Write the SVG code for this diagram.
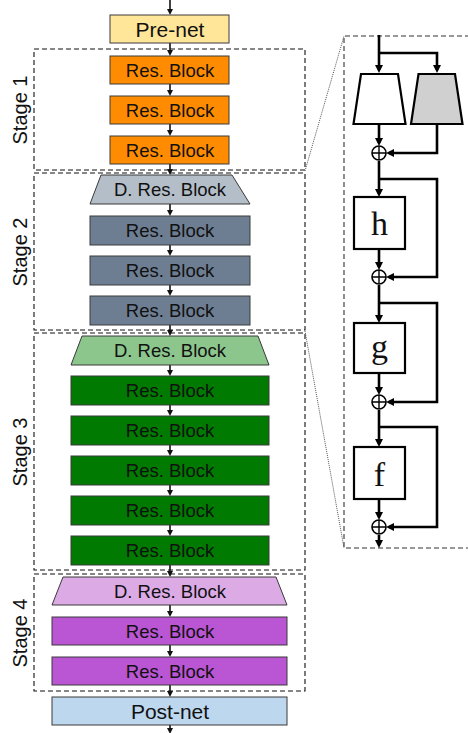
<svg xmlns="http://www.w3.org/2000/svg" width="468" height="733" viewBox="0 0 468 733">
<style>
.blk{stroke:#3a3a3a;stroke-width:1}
.t{font-family:"Liberation Sans",Arial,sans-serif;font-size:18.5px;fill:#111;text-anchor:middle}
.tb{font-family:"Liberation Sans",Arial,sans-serif;font-size:21px;fill:#111;text-anchor:middle}
.stage{fill:none;stroke:#111;stroke-width:1.1;stroke-dasharray:5,3}
.lbl{font-family:"Liberation Sans",Arial,sans-serif;font-size:20px;fill:#111;text-anchor:middle}
.c{stroke:#111;stroke-width:1.6;fill:none}
.r{stroke:#000;stroke-width:2.6;fill:none}
.rb{stroke:#000;stroke-width:2.2;fill:#fff}
.serif{font-family:"Liberation Serif","Times New Roman",serif;font-size:34px;fill:#111;text-anchor:middle}
.dot{stroke:#555;stroke-width:1;stroke-dasharray:1,1;fill:none}
.zoom{stroke:#333;stroke-width:1.1;stroke-dasharray:5,3;fill:none}
</style>
<defs>
<marker id="a" viewBox="0 0 6 6" refX="4" refY="3" markerWidth="6" markerHeight="6" markerUnits="userSpaceOnUse" orient="auto">
<path d="M0,0 L6,3 L0,6 z" fill="#111"/>
</marker>
<marker id="b" viewBox="0 0 8 8" refX="5" refY="4" markerWidth="8" markerHeight="8" markerUnits="userSpaceOnUse" orient="auto">
<path d="M0,0 L8,4 L0,8 z" fill="#000"/>
</marker>
</defs>

<g id="stage-frames">
<rect class="stage" x="34" y="49" width="271" height="121"/>
<rect class="stage" x="34" y="173" width="271" height="157"/>
<rect class="stage" x="34" y="333" width="271" height="237"/>
<rect class="stage" x="34" y="574" width="271" height="117"/>
<text class="lbl" transform="translate(27,110) rotate(-90)">Stage 1</text>
<text class="lbl" transform="translate(27,252) rotate(-90)">Stage 2</text>
<text class="lbl" transform="translate(27,452) rotate(-90)">Stage 3</text>
<text class="lbl" transform="translate(27,633) rotate(-90)">Stage 4</text>
</g>

<g id="connectors" marker-end="url(#a)">
<line class="c" x1="170" y1="0" x2="170" y2="13"/>
<line class="c" x1="170" y1="43" x2="170" y2="54"/>
<line class="c" x1="170" y1="84" x2="170" y2="94"/>
<line class="c" x1="170" y1="124" x2="170" y2="134"/>
<line class="c" x1="170" y1="164" x2="170" y2="173"/>
<line class="c" x1="170" y1="204" x2="170" y2="214"/>
<line class="c" x1="170" y1="245" x2="170" y2="254"/>
<line class="c" x1="170" y1="285" x2="170" y2="294"/>
<line class="c" x1="170" y1="325" x2="170" y2="334"/>
<line class="c" x1="170" y1="365" x2="170" y2="374"/>
<line class="c" x1="170" y1="405" x2="170" y2="414"/>
<line class="c" x1="170" y1="445" x2="170" y2="454"/>
<line class="c" x1="170" y1="485" x2="170" y2="494"/>
<line class="c" x1="170" y1="525" x2="170" y2="534"/>
<line class="c" x1="170" y1="565" x2="170" y2="575"/>
<line class="c" x1="170" y1="605" x2="170" y2="615"/>
<line class="c" x1="170" y1="645" x2="170" y2="655"/>
<line class="c" x1="170" y1="685" x2="170" y2="695"/>
<line class="c" x1="170" y1="725" x2="170" y2="732"/>
</g>

<g id="pre-net"><rect class="blk" x="110" y="15" width="119" height="28" fill="#FFE699"/><text class="tb" x="170" y="36.5">Pre-net</text></g>

<g id="s1-res1"><rect class="blk" x="110" y="56" width="119" height="28" fill="#FF8C00"/><text class="t" x="170" y="76.5">Res. Block</text></g>
<g id="s1-res2"><rect class="blk" x="110" y="96" width="119" height="28" fill="#FF8C00"/><text class="t" x="170" y="116.5">Res. Block</text></g>
<g id="s1-res3"><rect class="blk" x="110" y="136" width="119" height="28" fill="#FF8C00"/><text class="t" x="170" y="156.5">Res. Block</text></g>

<g id="s2-dres"><path class="blk" d="M101,175 L232,175 L250,204 L90,204 Z" fill="#B4BEC8"/><text class="t" x="170" y="196">D. Res. Block</text></g>
<g id="s2-res1"><rect class="blk" x="90" y="216" width="160" height="29" fill="#6E7E92"/><text class="t" x="170" y="237">Res. Block</text></g>
<g id="s2-res2"><rect class="blk" x="90" y="256" width="160" height="29" fill="#6E7E92"/><text class="t" x="170" y="277">Res. Block</text></g>
<g id="s2-res3"><rect class="blk" x="90" y="296" width="160" height="29" fill="#6E7E92"/><text class="t" x="170" y="317">Res. Block</text></g>

<g id="s3-dres"><path class="blk" d="M82,336 L258,336 L269,365 L71,365 Z" fill="#8CC68C"/><text class="t" x="170" y="357">D. Res. Block</text></g>
<g id="s3-res1"><rect class="blk" x="71" y="376" width="198" height="29" fill="#007A00"/><text class="t" x="170" y="397">Res. Block</text></g>
<g id="s3-res2"><rect class="blk" x="71" y="416" width="198" height="29" fill="#007A00"/><text class="t" x="170" y="437">Res. Block</text></g>
<g id="s3-res3"><rect class="blk" x="71" y="456" width="198" height="29" fill="#007A00"/><text class="t" x="170" y="477">Res. Block</text></g>
<g id="s3-res4"><rect class="blk" x="71" y="496" width="198" height="29" fill="#007A00"/><text class="t" x="170" y="517">Res. Block</text></g>
<g id="s3-res5"><rect class="blk" x="71" y="536" width="198" height="29" fill="#007A00"/><text class="t" x="170" y="557">Res. Block</text></g>

<g id="s4-dres"><path class="blk" d="M63,577 L276,577 L287,605 L52,605 Z" fill="#DCABE6"/><text class="t" x="170" y="597.5">D. Res. Block</text></g>
<g id="s4-res1"><rect class="blk" x="52" y="617" width="235" height="28" fill="#BA55D3"/><text class="t" x="170" y="637.5">Res. Block</text></g>
<g id="s4-res2"><rect class="blk" x="52" y="657" width="235" height="28" fill="#BA55D3"/><text class="t" x="170" y="677.5">Res. Block</text></g>

<g id="post-net"><rect class="blk" x="52" y="697" width="235" height="28" fill="#BDD7EE"/><text class="tb" x="170" y="718.5">Post-net</text></g>

<g id="zoom-frame">
<path class="zoom" d="M470,36 L344,36 L344,548 L470,548"/>
<line class="dot" x1="305" y1="171" x2="344" y2="36"/>
<line class="dot" x1="305" y1="331" x2="344" y2="548"/>
</g>

<g id="detail-connectors" marker-end="url(#b)">
<path class="r" d="M379,35 L379,70"/>
<path class="r" d="M379,53 L437,53 L437,70"/>
<path class="r" d="M379,124 L379,143"/>
<path class="r" d="M437,124 L437,153 L389,153"/>
<path class="r" d="M379,161 L379,194"/>
<path class="r" d="M379,179 L437,179 L437,277 L389,277"/>
<path class="r" d="M379,249 L379,267"/>
<path class="r" d="M379,285 L379,320"/>
<path class="r" d="M379,303 L437,303 L437,402 L389,402"/>
<path class="r" d="M379,373 L379,392"/>
<path class="r" d="M379,410 L379,444"/>
<path class="r" d="M379,427 L437,427 L437,527 L389,527"/>
<path class="r" d="M379,499 L379,517"/>
<path class="r" d="M379,535 L379,545"/>
</g>

<g id="trap-main"><path class="rb" d="M361,74 L398,74 L405.5,124 L353.5,124 Z"/></g>
<g id="trap-skip"><path class="rb" d="M418.5,74 L455,74 L462.5,124 L411,124 Z" style="fill:#D0D0D0"/></g>

<g id="sum1"><circle cx="379" cy="153" r="7" fill="#fff" stroke="#000" stroke-width="1.6"/><path d="M372,153 H386 M379,146 V160" stroke="#000" stroke-width="1.4"/></g>
<g id="h-box"><rect class="rb" x="354" y="197" width="51" height="52"/><text class="serif" x="379.5" y="235">h</text></g>
<g id="sum2"><circle cx="379" cy="277" r="7" fill="#fff" stroke="#000" stroke-width="1.6"/><path d="M372,277 H386 M379,270 V284" stroke="#000" stroke-width="1.4"/></g>
<g id="g-box"><rect class="rb" x="354" y="323" width="51" height="50"/><text class="serif" x="379.5" y="358">g</text></g>
<g id="sum3"><circle cx="379" cy="402" r="7" fill="#fff" stroke="#000" stroke-width="1.6"/><path d="M372,402 H386 M379,395 V409" stroke="#000" stroke-width="1.4"/></g>
<g id="f-box"><rect class="rb" x="354" y="447" width="51" height="52"/><text class="serif" x="379.5" y="486">f</text></g>
<g id="sum4"><circle cx="379" cy="527" r="7" fill="#fff" stroke="#000" stroke-width="1.6"/><path d="M372,527 H386 M379,520 V534" stroke="#000" stroke-width="1.4"/></g>
</svg>
